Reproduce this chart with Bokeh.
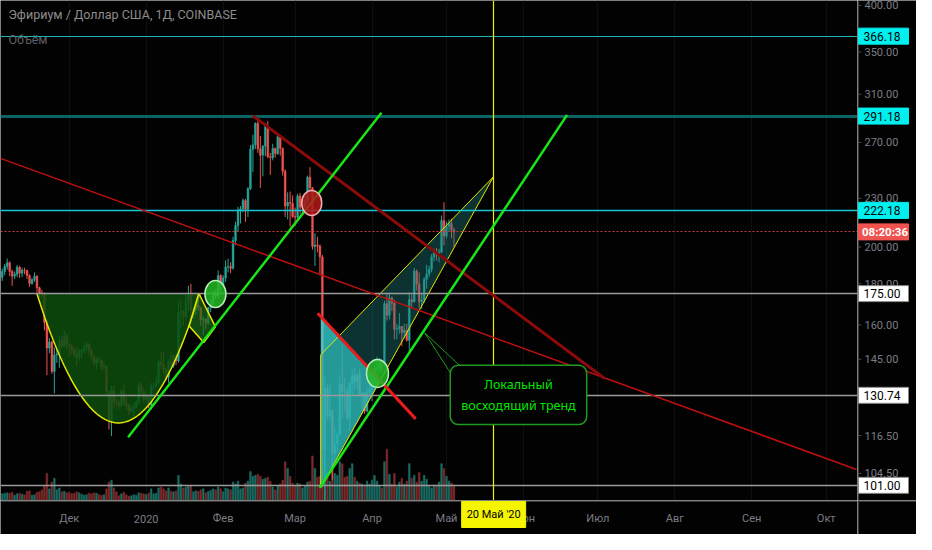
import numpy as np
import pandas as pd
from bokeh.plotting import figure
from bokeh.layouts import column, row
from bokeh.models import Range1d, LinearScale, FixedTicker, Label, Grid
from bokeh.core.properties import value
from bokeh.embed import file_html
from bokeh.resources import INLINE

# ---------------- data (ETH/USD daily, Coinbase) ----------------
first_date = "2019-11-04"
opens = [183.4, 186.5, 189.2, 191.2, 186.5, 184.0, 185.0, 188.8, 185.6, 187.2,
         187.0, 184.3, 180.2, 182.1, 184.0, 178.0, 175.2, 174.8, 161.2, 149.7,
         152.3, 140.0, 146.8, 147.2, 152.9, 150.6, 155.1,
         151.4, 150.5, 148.9, 147.1, 145.9, 148.2, 148.7, 150.2, 151.2, 148.4,
         146.1, 143.3, 144.8, 144.7, 141.8, 142.3, 132.0, 121.7, 132.7, 128.3,
         128.2, 126.8, 132.3, 127.9, 127.0, 125.0, 125.8, 126.4, 128.2, 134.4, 131.8,
         129.2, 130.8, 127.2, 134.3, 134.3, 135.8, 143.9, 142.9, 140.8, 137.9,
         144.1, 142.4, 146.5, 144.3, 165.6, 166.3, 163.9, 171.4, 174.4, 167.0,
         167.0, 169.4, 168.1, 162.3, 162.6, 160.8, 168.1, 170.0, 175.5, 173.8, 184.3,
         179.4, 183.0, 188.9, 189.1, 188.2, 203.8, 212.7, 222.4, 223.2, 228.5,
         222.9, 236.5, 264.8, 268.2, 285.2, 265.0, 260.2, 267.1, 282.8, 259.1,
         258.4, 265.4, 261.5, 274.5, 265.5, 248.5, 225.0, 227.3, 226.8,
         218.3, 217.9, 231.6, 224.2, 224.2, 228.3, 244.4, 237.1, 200.3, 201.2,
         200.6, 194.4, 111.9, 133.5, 123.2, 125.2, 110.6, 113.9, 116.8, 134.9,
         132.3, 132.0, 122.6, 135.3, 138.4, 136.0, 138.5, 131.0, 131.6, 125.0, 132.0,
         133.0, 135.9, 141.0, 141.0, 144.0, 142.9, 170.0, 164.5, 172.9, 170.3,
         158.0, 158.2, 159.3, 156.5, 157.6, 153.1, 172.0, 171.0, 186.8, 180.0,
         171.0, 171.9, 182.3, 185.1, 187.7, 194.4, 197.3, 196.5, 197.2, 215.8,
         206.4, 212.3, 214.0, 210.1]
highs = [188.0, 190.5, 193.5, 192.0, 187.5, 186.5, 190.0, 189.5, 188.5, 188.5,
         187.5, 185.0, 183.0, 186.0, 184.5, 178.5, 177.0, 175.5, 162.5, 154.0,
         153.0, 150.0, 150.0, 155.0, 155.0, 157.5, 156.0,
         152.0, 151.5, 150.0, 150.0, 149.5, 149.5, 152.0, 152.5, 152.0, 149.5,
         147.0, 146.0, 146.0, 145.0, 144.0, 142.5, 132.5, 134.5, 134.5, 129.5,
         129.0, 133.0, 135.0, 130.0, 127.5, 127.0, 128.0, 129.0, 136.0, 135.5, 133.5,
         132.5, 131.0, 135.5, 135.5, 138.0, 145.0, 148.0, 148.0, 141.5, 145.0,
         148.0, 147.0, 147.0, 171.5, 172.0, 167.0, 174.5, 179.0, 180.0, 168.5,
         170.5, 171.5, 168.5, 164.0, 163.0, 168.5, 172.0, 176.5, 177.0, 187.0, 185.0,
         184.5, 192.5, 193.5, 191.5, 206.0, 215.0, 224.5, 225.0, 230.0, 229.5,
         237.5, 268.0, 276.0, 286.0, 291.0, 275.0, 268.0, 285.5, 287.0, 262.0,
         269.0, 266.0, 276.0, 276.0, 266.0, 250.0, 234.0, 234.5, 232.0,
         224.0, 233.0, 233.5, 228.0, 231.0, 245.5, 251.5, 237.5, 208.0, 206.0,
         201.5, 195.5, 138.0, 135.0, 135.5, 125.5, 119.5, 118.0, 138.5, 151.0,
         137.5, 133.5, 136.0, 141.0, 141.5, 139.5, 141.0, 132.0, 132.0, 134.0, 135.5,
         137.0, 145.0, 146.0, 145.5, 144.5, 171.5, 175.0, 175.5, 173.5, 172.0,
         160.5, 165.5, 159.5, 160.5, 160.5, 175.5, 174.5, 188.5, 187.5, 186.0,
         175.0, 183.5, 190.0, 189.5, 196.0, 199.0, 199.5, 199.0, 219.0, 227.5,
         215.0, 216.5, 217.0, 211.5]
lows = [181.5, 184.5, 187.5, 184.0, 179.0, 182.5, 183.5, 183.0, 183.5, 185.0,
        182.5, 178.5, 179.5, 181.0, 175.5, 172.5, 173.0, 157.5, 138.5, 147.5,
        139.0, 131.5, 143.5, 141.5, 149.5, 150.0, 149.0,
        146.0, 147.0, 145.5, 142.5, 144.5, 145.5, 147.5, 148.5, 146.5, 144.5,
        142.5, 141.0, 143.5, 140.5, 140.5, 130.5, 118.5, 116.3, 126.0, 126.5,
        125.5, 126.5, 127.0, 125.5, 123.5, 124.5, 123.0, 126.0, 127.5, 130.5, 128.0,
        128.5, 126.0, 125.5, 132.5, 133.5, 135.0, 141.0, 139.0, 136.5, 135.5,
        141.5, 141.5, 142.5, 143.5, 158.5, 159.5, 162.5, 166.5, 162.0, 163.0,
        164.5, 166.5, 159.5, 155.5, 158.0, 160.0, 166.0, 169.0, 172.0, 172.5, 176.0,
        178.5, 181.0, 186.0, 185.5, 187.5, 201.0, 209.0, 214.0, 221.0, 215.0,
        218.0, 235.5, 248.0, 265.0, 262.0, 237.0, 245.0, 259.5, 258.0, 246.0,
        256.5, 258.5, 260.5, 260.0, 245.5, 218.0, 216.5, 212.0, 217.5,
        212.5, 216.5, 220.0, 221.0, 223.5, 226.5, 235.5, 198.5, 189.5, 197.0,
        184.5, 100.5, 90.0, 122.0, 121.5, 102.5, 108.5, 110.5, 116.5, 122.5,
        125.0, 121.5, 118.0, 131.5, 133.0, 133.0, 130.5, 125.0, 124.0, 124.5, 131.0,
        128.5, 135.0, 137.5, 139.5, 139.5, 142.0, 162.0, 162.5, 166.5, 153.5,
        153.5, 156.0, 150.5, 154.0, 152.5, 148.5, 168.5, 170.5, 176.5, 168.0,
        167.5, 170.5, 177.5, 183.5, 186.0, 192.0, 192.5, 191.5, 196.5, 201.0,
        205.0, 209.0, 205.0, 200.0]
closes = [186.5, 189.2, 191.2, 186.5, 184.0, 185.0, 188.8, 185.6, 187.2, 187.0,
          184.3, 180.2, 182.1, 184.0, 178.0, 175.2, 174.8, 161.2, 149.7, 152.3,
          140.0, 146.8, 147.2, 152.9, 150.6, 155.1, 151.4,
          150.5, 148.9, 147.1, 145.9, 148.2, 148.7, 150.2, 151.2, 148.4, 146.1,
          143.3, 144.8, 144.7, 141.8, 142.3, 132.0, 121.7, 132.7, 128.3, 128.2,
          126.8, 132.3, 127.9, 127.0, 125.0, 125.8, 126.4, 128.2, 134.4, 131.8, 129.2,
          130.8, 127.2, 134.3, 134.3, 135.8, 143.9, 142.9, 140.8, 137.9, 144.1,
          142.4, 146.5, 144.3, 165.6, 166.3, 163.9, 171.4, 174.4, 167.0, 167.0,
          169.4, 168.1, 162.3, 162.6, 160.8, 168.1, 170.0, 175.5, 173.8, 184.3, 179.4,
          183.0, 188.9, 189.1, 188.2, 203.8, 212.7, 222.4, 223.2, 228.5, 222.9,
          236.5, 264.8, 268.2, 285.2, 265.0, 260.2, 267.1, 282.8, 259.1, 258.4,
          265.4, 261.5, 274.5, 265.5, 248.5, 225.0, 227.3, 226.8, 218.3,
          217.9, 231.6, 224.2, 224.2, 228.3, 244.4, 237.1, 200.3, 201.2, 200.6,
          194.4, 111.9, 133.5, 123.2, 125.2, 110.6, 113.9, 116.8, 134.9, 132.3,
          132.0, 122.6, 135.3, 138.4, 136.0, 138.5, 131.0, 131.6, 125.0, 132.0, 133.0,
          135.9, 141.0, 141.0, 144.0, 142.9, 170.0, 164.5, 172.9, 170.3, 158.0,
          158.2, 159.3, 156.5, 157.6, 153.1, 172.0, 171.0, 186.8, 180.0, 171.0,
          171.9, 182.3, 185.1, 187.7, 194.4, 197.3, 196.5, 197.2, 215.8, 206.4,
          212.3, 214.0, 210.1, 208.9]
volumes = [70, 75, 80, 75, 85, 55, 70, 75, 65, 60,
           95, 100, 55, 60, 85, 90, 110,
           160, 280, 120, 190, 230, 110, 130, 90, 95, 80,
           85, 70, 75, 90, 80, 65, 55, 60, 75, 70, 80, 75, 60, 55, 60,
           120, 190, 210, 130, 90,
           50, 70, 85, 60, 45, 50, 60, 55, 80, 75, 70,
           60, 75, 120, 70, 75, 130, 140, 120, 100, 130, 95, 90, 100,
           260, 170, 130, 140, 150, 160, 90,
           100, 95, 110, 120, 80, 95, 105, 120, 110, 140, 120,
           90, 130, 120, 110, 190, 170, 200, 120, 130, 180, 200,
           300, 250, 260, 270, 250, 220, 230, 240, 200,
           140, 110, 150, 170, 210, 400, 330, 250, 180,
           150, 180, 170, 130, 150, 190, 200, 460, 330, 240, 250,
           650, 700, 300, 200, 420, 280, 260,
           400, 380, 240, 250, 330, 380, 240, 200, 180, 170, 160, 200, 170,
           210, 260, 200, 150, 130, 400, 530, 270, 170, 280, 140, 190, 230, 170, 200,
           380, 230, 260, 190, 290, 200, 260, 220, 150, 130, 160, 150, 190, 380, 330,
           250, 200, 180, 160]
current_price = 208.9
countdown = "08:20:36"

# axis labels
origin = pd.Timestamp("2019-12-01")
month_dates = ["2019-12-01", "2020-01-01", "2020-02-01", "2020-03-01", "2020-04-01",
               "2020-05-01", "2020-06-01", "2020-07-01", "2020-08-01", "2020-09-01",
               "2020-10-01"]
month_labels = ["Дек", "2020", "Фев", "Мар", "Апр", "Май", "Июн", "Июл", "Авг", "Сен", "Окт"]
price_ticks = [104.5, 116.5, 130, 145, 160, 180, 200, 230, 270, 310, 350, 400]

# horizontal levels drawn on the chart
cyan_levels = [366.18, 291.18, 222.18]
white_levels = [175.00, 130.74, 101.00]
marker_date = "2020-05-20"
marker_label = "20 Май '20"

# drawing anchors: (days since 2019-12-01, price)
cup_left, cup_bottom, cup_right = (-13.05, 175.0), (19.8, 120.8), (52.6, 175.0)
handle_x = [48.3, 52.2, 58.9, 54.2]
handle_y = [159.5, 175.2, 159.1, 152.1]
tri_x = [101.3, 125.4, 101.3]
tri_y = [164.0, 136.5, 100.3]
wedge_x = [101.3, 170.9, 101.3]
wedge_y = [146.8, 244.6, 100.3]
green_x0, green_y0 = [23.7, 100.9], [115.9, 100.3]
green_x1, green_y1 = [125.8, 200.6], [293.9, 292.2]
dred_x0, dred_y0, dred_x1, dred_y1 = [74.0], [291.4], [215.6], [137.3]
tred_x0, tred_y0, tred_x1, tred_y1 = [-27.7], [257.9], [317.2], [105.7]
sred_x0, sred_y0, sred_x1, sred_y1 = [100.1], [165.4], [139.6], [122.2]
gcirc_x, gcirc_y = [58.9, 124.2], [174.8, 139.2]
rcirc_x, rcirc_y = [97.7], [227.0]
callout_anchor = (143.2, 156.4)
callout_edge_x, callout_edge_y = [159.0, 155.5], [140.8, 136.5]
callout_center = (181.0, 130.9)
callout_text = "Локальный\nвосходящий тренд"
title_text = "Эфириум / Доллар США, 1Д, COINBASE"
subtitle_text = "Объём"

# ---------------- derived ----------------
dates = pd.date_range(first_date, periods=len(closes), freq="D")
day = np.asarray((dates - origin).days, dtype=float)
o = np.array(opens); h = np.array(highs); l = np.array(lows); c = np.array(closes)
up = c >= o
UP, DOWN = "#26a69a", "#ef5350"
col = np.where(up, UP, DOWN).tolist()
vcol = np.where(up, "#1b6b63", "#7c2b2b").tolist()
month_ticks = [int((pd.Timestamp(s) - origin).days) for s in month_dates]
marker_day = (pd.Timestamp(marker_date) - origin).days

BG = "#020202"
AXIS = "#3a3a3a"
TICK_TXT = "#7b7d85"
X0, X1 = -27.7, 317.6
Y0, Y1 = 96.7, 405.6
FW, FH, RW, BH = 857, 500, 59, 34


def panel(**kw):
    f = figure(output_backend="svg", toolbar_location=None, min_border=0,
               background_fill_color=BG, border_fill_color=BG, outline_line_color=None,
               x_axis_location=None, y_axis_location=None, **kw)
    f.grid.visible = False
    return f


# ---------------- main chart ----------------
p = panel(frame_width=FW, frame_height=FH, x_range=Range1d(X0, X1),
          y_range=Range1d(Y0, Y1), y_axis_type="log")
p.add_layout(Grid(dimension=0, ticker=FixedTicker(ticks=month_ticks), grid_line_color="#0f0f0f"))
p.extra_y_ranges = {"vol": Range1d(0, 5160)}
p.extra_y_scales = {"vol": LinearScale()}

# volume
p.vbar(x=day, width=0.7, top=volumes, bottom=0, y_range_name="vol",
       fill_color=vcol, line_color=vcol, line_width=0.5)

# candles
p.segment(x0=day, y0=l, x1=day, y1=h, line_color=col, line_width=1)
p.vbar(x=day, width=0.7, top=np.maximum(o, c), bottom=np.minimum(o, c),
       fill_color=col, line_color=col, line_width=0.5)

# cup (parabola in log-price space)
t = np.linspace(cup_left[0], cup_right[0], 90)
half = (cup_right[0] - cup_left[0]) / 2
lp = np.log(cup_bottom[1]) + (np.log(cup_left[1]) - np.log(cup_bottom[1])) * ((t - cup_bottom[0]) / half) ** 2
cup_y = np.exp(lp)
p.patch(t, cup_y, fill_color="#0d4d0d", fill_alpha=0.85, line_color=None)
p.line(t, cup_y, line_color="#e6e600", line_width=1.5)

# handle
p.patch(handle_x, handle_y, fill_color="#1b6b1b", fill_alpha=0.7, line_color="#e6e600", line_width=1.5)

# cyan triangle & rising wedge
p.patch(tri_x, tri_y, fill_color="#38dede", fill_alpha=0.75, line_color=None)
p.patch(wedge_x, wedge_y, fill_color="#1e8080", fill_alpha=0.38, line_color="#e6e600", line_width=1)

# horizontal levels
p.hspan(y=cyan_levels, line_color=["#1fb5b5", "#0b6262", "#17c8d2"], line_width=[1, 3, 1.5])
p.hspan(y=white_levels, line_color="#9a9a9a", line_width=1.5)
p.hspan(y=[current_price], line_color="#d23c3c", line_width=1.2, line_dash="2 2")
p.vspan(x=[marker_day], line_color="#f0f000", line_width=1.2)

# trend lines
p.segment(x0=tred_x0, y0=tred_y0, x1=tred_x1, y1=tred_y1, line_color="#c01010", line_width=1.5)
p.segment(x0=dred_x0, y0=dred_y0, x1=dred_x1, y1=dred_y1, line_color="#8b0a0a", line_width=3)
p.segment(x0=green_x0, y0=green_y0, x1=green_x1, y1=green_y1, line_color="#19e619", line_width=2.5)
p.segment(x0=sred_x0, y0=sred_y0, x1=sred_x1, y1=sred_y1, line_color="#e81c1c", line_width=3)

# circles
p.ellipse(x=gcirc_x, y=gcirc_y, width=[21, 22], height=[27, 28],
          width_units="screen", height_units="screen",
          fill_color="#25b825", fill_alpha=0.85, line_color="#b6f0b6", line_width=1.5)
p.ellipse(x=rcirc_x, y=rcirc_y, width=20, height=25,
          width_units="screen", height_units="screen",
          fill_color="#b01818", fill_alpha=0.85, line_color="#f0b0b0", line_width=1.5)

# callout
p.segment(x0=[callout_anchor[0]] * 2, y0=[callout_anchor[1]] * 2,
          x1=callout_edge_x, y1=callout_edge_y, line_color="#1f9a1f", line_width=1)
p.add_layout(Label(x=callout_center[0], y=callout_center[1], text=callout_text,
                   text_align="center", text_baseline="middle", text_color="#00e600",
                   text_font="Noto Sans", text_font_size="12.5px",
                   background_fill_color=BG, border_line_color="#1f9a1f",
                   border_line_width=1.5, border_radius=8, padding=11))

# title
p.add_layout(Label(x=-24.5, y=390.1, text=title_text, text_baseline="middle",
                   text_color="#8c8c8c", text_font="Roboto", text_font_size="12.5px"))
p.add_layout(Label(x=-24.5, y=363.0, text=subtitle_text, text_baseline="middle",
                   text_color="#5d5f66", text_font="Roboto", text_font_size="12.5px"))

# ---------------- right price scale ----------------
r = panel(frame_width=RW, frame_height=FH, x_range=Range1d(0, RW), y_range=p.y_range,
          y_axis_type="log")
r.vspan(x=[0.5], line_color=AXIS, line_width=1)
r.segment(x0=0, x1=4, y0=price_ticks, y1=price_ticks, line_color="#4a4a4a", line_width=1)
r.text(x=7, y=price_ticks, text=[f"{v:.2f}" for v in price_ticks], text_baseline="middle",
       text_font=value("Roboto"), text_font_size="11px", text_color=TICK_TXT)
all_levels = cyan_levels + white_levels
r.segment(x0=0, x1=4, y0=all_levels, y1=all_levels, line_color="#8a8a8a", line_width=1)
r.rect(x=26, y=cyan_levels, width=50, height=16, height_units="screen",
       fill_color="#00f0f0", line_color="#00f0f0")
r.rect(x=26, y=white_levels, width=50, height=16, height_units="screen",
       fill_color="#ffffff", line_color="#8a8a8a")
r.text(x=6, y=all_levels, text=[f"{v:.2f}" for v in all_levels], text_baseline="middle",
       text_font=value("Roboto"), text_font_size="12px", text_color="#000000")
r.rect(x=26, y=[current_price], width=50, height=16, height_units="screen",
       fill_color="#ef5350", line_color="#ef5350")
r.text(x=4.5, y=[current_price], text=[countdown], text_baseline="middle",
       text_font=value("Roboto"), text_font_size="11.5px", text_font_style="bold",
       text_color="#ffffff")

# ---------------- bottom time scale ----------------
b = panel(frame_width=FW, frame_height=BH, x_range=p.x_range, y_range=Range1d(0, BH))
b.hspan(y=[BH - 0.5], line_color=AXIS, line_width=1)
b.text(x=month_ticks, y=16, text=month_labels, text_align="center", text_baseline="middle",
       text_font=value("Roboto"), text_font_size="11px", text_color=TICK_TXT)
b.rect(x=[marker_day], y=20, width=64, height=26, width_units="screen",
       fill_color="#f5f500", line_color="#f5f500")
b.text(x=[marker_day], y=20, text=[marker_label], text_align="center", text_baseline="middle",
       text_font=value("Roboto"), text_font_size="11px", text_color="#000000")

corner = panel(frame_width=RW, frame_height=BH, x_range=Range1d(0, RW), y_range=Range1d(0, BH))
corner.vspan(x=[0.5], line_color=AXIS, line_width=1)
corner.hspan(y=[BH - 0.5], line_color=AXIS, line_width=1)

layout = column(row(p, r, spacing=0), row(b, corner, spacing=0), spacing=0)
open("out.html", "w").write(file_html(layout, INLINE))
